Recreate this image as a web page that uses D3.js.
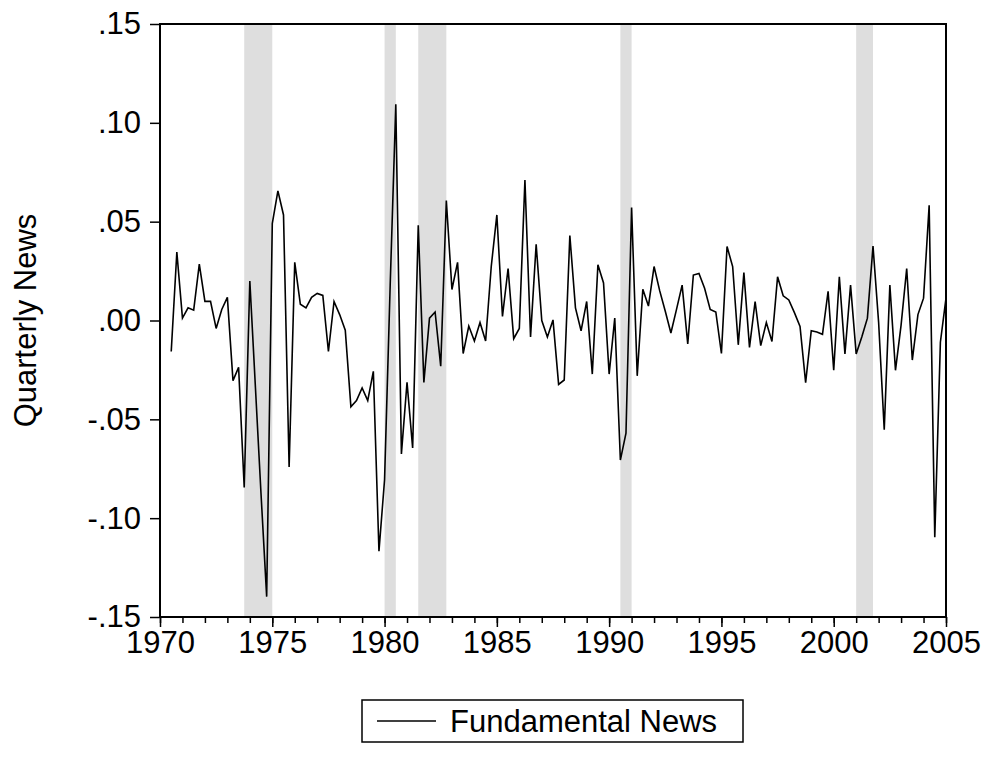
<!DOCTYPE html>
<html lang="en">
<head>
<meta charset="utf-8">
<title>Fundamental News</title>
<script src="https://cdn.jsdelivr.net/npm/d3@7"></script>
<style>
  body { margin: 0; background: #fff; }
  svg text { font-family: Arial, "Liberation Sans", sans-serif; fill: #000; }
</style>
</head>
<body>
<script>

// quarterly observations, first one is 1970Q3
const firstQuarter = 1970.5;
const newsValues = [
  -0.0157, 0.0346,
  0.0012, 0.0064, 0.0052, 0.0285,
  0.0097, 0.0097, -0.0040, 0.0056,
  0.0117, -0.0304, -0.0237, -0.0845,
  0.0200, -0.0340, -0.0880, -0.1397,
  0.0490, 0.0656, 0.0534, -0.0741,
  0.0294, 0.0082, 0.0064, 0.0117,
  0.0137, 0.0127, -0.0157, 0.0096,
  0.0030, -0.0049, -0.0437, -0.0405,
  -0.0341, -0.0405, -0.0257, -0.1167,
  -0.0805, 0.0180, 0.1094, -0.0675,
  -0.0313, -0.0645, 0.0482, -0.0313,
  0.0012, 0.0043, -0.0231, 0.0607,
  0.0157, 0.0294, -0.0167, -0.0028,
  -0.0104, -0.0010, -0.0104, 0.0273,
  0.0534, 0.0021, 0.0263, -0.0092,
  -0.0040, 0.0711, -0.0083, 0.0386,
  0.0000, -0.0083, 0.0003, -0.0323,
  -0.0301, 0.0430, 0.0064, -0.0052,
  0.0096, -0.0271, 0.0282, 0.0190,
  -0.0271, 0.0012, -0.0706, -0.0570,
  0.0572, -0.0280, 0.0158, 0.0073,
  0.0273, 0.0151, 0.0047, -0.0063,
  0.0056, 0.0179, -0.0118, 0.0230,
  0.0238, 0.0163, 0.0056, 0.0043,
  -0.0167, 0.0374, 0.0273, -0.0123,
  0.0242, -0.0136, 0.0096, -0.0127,
  -0.0010, -0.0106, 0.0221, 0.0125,
  0.0104, 0.0040, -0.0030, -0.0315,
  -0.0052, -0.0058, -0.0070, 0.0148,
  -0.0252, 0.0221, -0.0169, 0.0179,
  -0.0169, -0.0083, 0.0012, 0.0376,
  -0.0010, -0.0553, 0.0179, -0.0252,
  -0.0023, 0.0263, -0.0200, 0.0030,
  0.0113, 0.0583, -0.1096, -0.0110,
  0.0113
];

const recessionStart = [1973.75, 1980.0, 1981.5, 1990.5, 2001.0];
const recessionEnd = [1975.0, 1980.5, 1982.75, 1991.0, 2001.75];

const yTicks = [-0.15, -0.10, -0.05, 0, 0.05, 0.10, 0.15];
const xMajorTicks = [1970, 1975, 1980, 1985, 1990, 1995, 2000, 2005];
const xMinorTicks = d3.range(1970, 2006);

const yTitle = "Quarterly News";
const seriesName = "Fundamental News";

const w = 988;
const h = 757;
const margin = {top: 24, right: 42, bottom: 140, left: 160};
const fontSize = 31;

const dataset = newsValues.map((v, i) => ({t: firstQuarter + i * 0.25, v: v}));

const xScale = d3.scaleLinear()
  .domain([1970, 2005])
  .range([margin.left, w - margin.right]);

const yScale = d3.scaleLinear()
  .domain([-0.15, 0.15])
  .range([h - margin.bottom, margin.top]);

const svg = d3.select("body")
  .append("svg")
  .attr("width", w)
  .attr("height", h);

// shaded recessions
svg.append("g")
  .selectAll("rect")
  .data(recessionStart)
  .enter()
  .append("rect")
  .attr("x", d => xScale(d))
  .attr("y", margin.top)
  .attr("width", (d, i) => xScale(recessionEnd[i]) - xScale(d))
  .attr("height", yScale(-0.15) - yScale(0.15))
  .style("fill", "#dedede");

const line = d3.line()
  .x(d => xScale(d.t))
  .y(d => yScale(d.v));

svg.append("path")
  .datum(dataset)
  .attr("d", line)
  .style("fill", "none")
  .style("stroke", "#000")
  .style("stroke-width", 1.6)
  .style("stroke-linejoin", "miter");

// EViews style: ".05", "-.10"
const fmt = d => d3.format(".2f")(d).replace("\u2212", "-").replace("0.", ".");

const yAxis = d3.axisLeft(yScale)
  .tickValues(yTicks)
  .tickFormat(fmt)
  .tickSize(10)
  .tickSizeOuter(0)
  .tickPadding(9);

const xMinor = d3.axisBottom(xScale)
  .tickValues(xMinorTicks)
  .tickFormat("")
  .tickSize(6)
  .tickSizeOuter(0);

const xMajor = d3.axisBottom(xScale)
  .tickValues(xMajorTicks)
  .tickFormat(d3.format("d"))
  .tickSize(10)
  .tickSizeOuter(0)
  .tickPadding(4);

const gy = svg.append("g")
  .attr("transform", "translate(" + margin.left + ",0)")
  .call(yAxis);

const gxm = svg.append("g")
  .attr("transform", "translate(0," + (h - margin.bottom) + ")")
  .call(xMinor);

const gx = svg.append("g")
  .attr("transform", "translate(0," + (h - margin.bottom) + ")")
  .call(xMajor);

[gy, gxm, gx].forEach(g => {
  g.select(".domain").remove();
  g.selectAll("line").style("stroke", "#000").style("stroke-width", 1.5);
  g.selectAll("text").style("font-size", fontSize + "px").style("fill", "#000");
});

// frame
svg.append("rect")
  .attr("x", margin.left)
  .attr("y", margin.top)
  .attr("width", w - margin.left - margin.right)
  .attr("height", h - margin.top - margin.bottom)
  .style("fill", "none")
  .style("stroke", "#000")
  .style("stroke-width", 2);

svg.append("text")
  .attr("transform", "rotate(-90)")
  .attr("x", -(margin.top + (h - margin.bottom)) / 2)
  .attr("y", 36)
  .attr("text-anchor", "middle")
  .style("font-size", fontSize + "px")
  .text(yTitle);

// legend
const legend = svg.append("g");

legend.append("rect")
  .attr("x", 362)
  .attr("y", 700)
  .attr("width", 381)
  .attr("height", 42)
  .style("fill", "#fff")
  .style("stroke", "#000")
  .style("stroke-width", 1.5);

legend.append("line")
  .attr("x1", 377)
  .attr("x2", 436)
  .attr("y1", 721)
  .attr("y2", 721)
  .style("stroke", "#000")
  .style("stroke-width", 1.6);

legend.append("text")
  .attr("x", 450)
  .attr("y", 732)
  .style("font-size", fontSize + "px")
  .text(seriesName);

</script>
</body>
</html>
